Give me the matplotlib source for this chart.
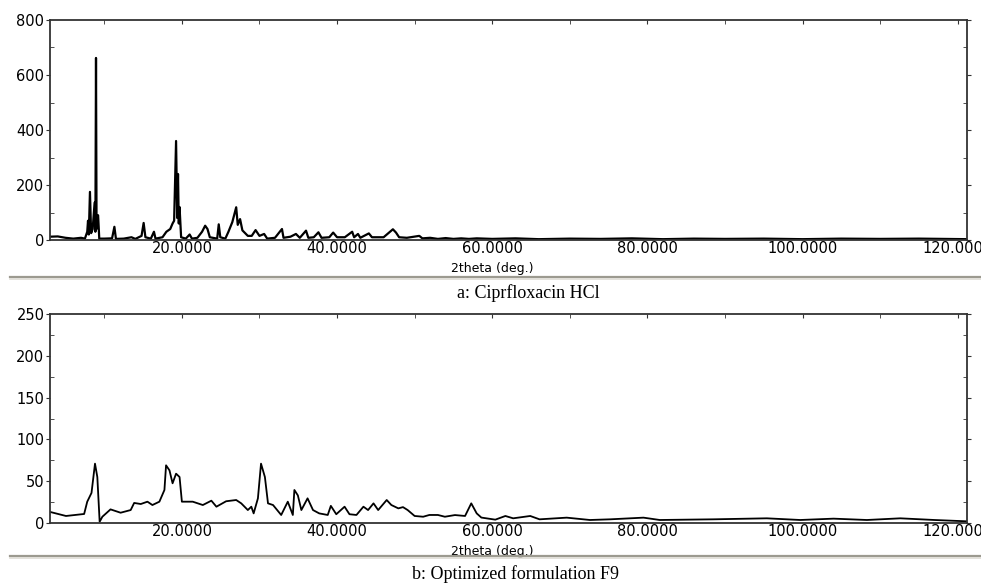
import numpy as np
import matplotlib.pyplot as plt
from matplotlib.lines import Line2D
from matplotlib.ticker import MultipleLocator, FixedLocator

# Pattern a: Ciprofloxacin HCl (2theta, counts)
theta_a = [3.0, 4.0, 5.0, 6.0, 7.0, 7.5, 7.8, 7.9, 8.0, 8.15, 8.3, 8.5, 8.75, 8.85, 8.93,
           9.0, 9.2, 9.35, 10.0, 11.0, 11.3, 11.5, 12.5, 13.5, 14.0, 14.8, 15.07, 15.3,
           16.0, 16.4, 16.6, 17.5, 18.0, 18.5, 18.8, 19.0, 19.25, 19.4, 19.5, 19.6, 19.7,
           19.9, 20.5, 21.0, 21.3, 22.0, 22.6, 23.0, 23.3, 23.6, 24.55, 24.75, 24.95, 25.6,
           26.0, 26.5, 27.0, 27.2, 27.5, 27.8, 28.5, 29.0, 29.5, 30.0, 30.6, 31.0, 32.0,
           32.9, 33.1, 34.0, 34.7, 35.2, 36.0, 36.3, 37.0, 37.6, 38.0, 39.0, 39.5, 40.0,
           41.0, 41.95, 42.2, 42.7, 43.0, 44.1, 44.5, 46.0, 47.2, 47.6, 48.0, 49.0, 50.6,
           51.0, 52.0, 53.0, 54.0, 55.0, 56.0, 57.0, 58.0, 60.0, 63.0, 66.0, 70.0, 74.0,
           78.0, 82.0, 86.0, 90.0, 95.0, 100.0, 105.0, 110.0, 115.0, 121.2]
counts_a = [12, 13, 8, 5, 8, 5, 30, 70, 20, 175, 25, 40, 136, 30, 662,
            40, 90, 5, 5, 6, 48, 4, 5, 10, 4, 15, 62, 10,
            5, 30, 5, 10, 30, 40, 60, 70, 360, 80, 240, 60, 120,
            10, 5, 20, 5, 8, 30, 52, 40, 10, 5, 57, 10, 5,
            30, 65, 119, 55, 76, 35, 15, 15, 36, 15, 22, 5, 8,
            40, 8, 12, 22, 8, 34, 8, 10, 28, 8, 10, 27, 10,
            10, 30, 10, 22, 8, 24, 10, 10, 39, 27, 10, 8, 15,
            6, 8, 4, 7, 4, 6, 4, 6, 4, 6, 3, 5, 4,
            6, 3, 5, 4, 5, 3, 5, 4, 5, 3]

# Pattern b: optimized formulation F9
theta_b = [2.9, 5.06, 7.4, 7.8, 8.35, 8.8, 9.1, 9.4, 9.75, 10.8, 12.1, 13.4, 13.85, 14.7,
           15.56, 16.2, 17.1, 17.75, 17.96, 18.4, 18.8, 19.25, 19.7, 20.0, 21.4, 22.7,
           23.8, 24.45, 25.7, 27.0, 27.65, 28.5, 28.95, 29.25, 29.8, 30.2, 30.7, 31.1,
           31.75, 32.8, 33.65, 34.3, 34.5, 34.95, 35.4, 36.2, 36.9, 37.7, 38.8, 39.2,
           39.9, 40.97, 41.6, 42.5, 43.4, 44.0, 44.7, 45.3, 46.4, 47.0, 47.9, 48.5, 49.1,
           50.0, 51.1, 51.9, 53.0, 53.9, 55.2, 56.5, 57.3, 58.0, 58.6, 60.4, 61.7, 62.7,
           64.9, 66.1, 69.6, 72.6, 75.2, 79.5, 81.6, 88.5, 95.4, 99.7, 104.0, 108.3,
           112.6, 117.0, 121.2]
counts_b = [13.5, 8.4, 10.8, 25.5, 36, 71, 55, 1.5, 7.5, 16.3, 12.3, 15.5, 24, 22.7,
            25.5, 21.5, 25.5, 39.5, 69, 63, 47.5, 59, 55, 25.5, 25.5, 21.5,
            26.7, 19.5, 26, 27.5, 23.5, 15.5, 19.5, 11.5, 29.5, 71, 55, 23.5,
            21.5, 9.6, 25.5, 9.6, 39.5, 33, 15.5, 29.5, 15.5, 11.5, 9.6, 20.5,
            10.5, 19.5, 10.5, 9.6, 19.5, 15.5, 23.5, 15.5, 27.5, 21.5, 17.5, 19, 15.5,
            8.4, 7.5, 9.6, 9.6, 7.5, 9.5, 8.4, 23.5, 11.5, 6.5, 4, 8.4, 5.6,
            8.4, 4.4, 6.4, 3.6, 4.4, 6.4, 3.6, 4.4, 5.6, 3.6, 5.2, 3.6,
            5.6, 3.6, 2]

x_major = [20, 40, 60, 80, 100, 120]
x_labels = ['20.0000', '40.0000', '60.0000', '80.0000', '100.0000', '120.0000']

plt.rcParams['font.family'] = 'DejaVu Sans'

fig = plt.figure(figsize=(9.81, 5.88), dpi=100)
W, H = 981, 588

def make_axes(top, bottom, ymax, ymajor, yminor):
    ax = fig.add_axes([50 / W, 1 - bottom / H, 917 / W, (bottom - top) / H])
    ax.set_xlim(3.0, 121.2)
    ax.set_ylim(0, ymax)
    for s in ax.spines.values():
        s.set_color('#333333')
        s.set_linewidth(1.3)
    ax.xaxis.set_major_locator(FixedLocator(x_major))
    ax.set_xticklabels(x_labels)
    ax.xaxis.set_minor_locator(MultipleLocator(10))
    ax.tick_params(axis='x', which='both', bottom=False, top=True, direction='in',
                   length=3, labelsize=10.5, pad=1, colors='#333333', labelcolor='black')
    ax.yaxis.set_major_locator(MultipleLocator(ymajor))
    ax.yaxis.set_minor_locator(MultipleLocator(yminor))
    ax.tick_params(axis='y', which='major', left=True, right=True, direction='out',
                   length=3, labelsize=10.5, pad=1, colors='#333333', labelcolor='black')
    ax.tick_params(axis='y', which='minor', left=True, right=True, direction='in',
                   length=3, colors='#333333')
    ax.set_xlabel('2theta (deg.)', fontsize=9, labelpad=0)
    ax.xaxis.set_label_coords(0.482, -0.1 * 220 / (bottom - top))
    return ax

ax1 = make_axes(20, 240, 800, 200, 100)
ax1.plot(theta_a, counts_a, color='black', linewidth=1.6)

ax2 = make_axes(314, 523, 250, 50, 25)
ax2.plot(theta_b, counts_b, color='black', linewidth=1.3)

# separators and captions
for yy in (277, 556):
    fig.add_artist(Line2D([10 / W, 1], [1 - yy / H] * 2, color='#9c9a90', linewidth=1.6))
    fig.add_artist(Line2D([10 / W, 1], [1 - (yy + 2) / H] * 2, color='#dedcd4', linewidth=1.2))

fig.text(528 / W, 1 - 293 / H, 'a: Ciprfloxacin HCl', family='Liberation Serif',
         fontsize=13, ha='center', va='center')
fig.text(516 / W, 1 - 574 / H, 'b: Optimized formulation F9', family='Liberation Serif',
         fontsize=13, ha='center', va='center')

fig.savefig('out.png', dpi=100)
